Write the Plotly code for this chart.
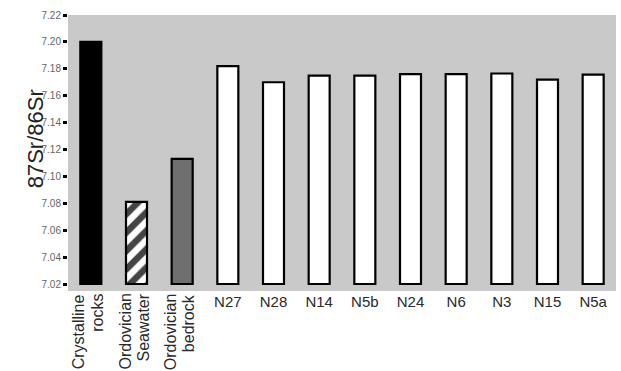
import plotly.graph_objects as go

categories = ["Crystalline<br>rocks", "Ordovician<br>Seawater", "Ordovician<br>bedrock",
              "N27", "N28", "N14", "N5b", "N24", "N6", "N3", "N15", "N5a"]
values = [7.200, 7.081, 7.113, 7.182, 7.170, 7.175, 7.175, 7.176, 7.176, 7.1765, 7.172, 7.1756]
base_value = 7.02
fills = ["#000000", "#ffffff", "#6f6f6f"] + ["#ffffff"] * 9
patterns = ["", "/", ""] + [""] * 9
rotated = [True, True, True] + [False] * 9
y_ticks = [7.02, 7.04, 7.06, 7.08, 7.10, 7.12, 7.14, 7.16, 7.18, 7.20, 7.22]

FONT = "Liberation Sans, Arial, sans-serif"

fig = go.Figure()
fig.add_trace(go.Bar(
    x=categories,
    y=[v - base_value for v in values],
    base=base_value,
    marker=dict(
        color=fills,
        line=dict(color="#000000", width=2.2),
        pattern=dict(shape=patterns, fgcolor="#000000", bgcolor="#ffffff",
                     fgopacity=1, size=13, solidity=0.5),
    ),
    showlegend=False,
))

ticktext = ["" if r else c for c, r in zip(categories, rotated)]

for c, r in zip(categories, rotated):
    if r:
        lines = c.split("<br>")
        n = len(lines)
        for i, line in enumerate(lines):
            fig.add_annotation(
                x=c, xref="x", y=0, yref="paper",
                text=line, textangle=-90, showarrow=False,
                xanchor="center", yanchor="top", yshift=-1,
                xshift=(i - (n - 1) / 2) * 18 - 3,
                font=dict(family=FONT, size=16, color="#2a2a2a"),
            )

fig.add_annotation(
    x=-0.06, xref="paper", y=0.55, yref="paper",
    text="87Sr/86Sr", textangle=-90, showarrow=False,
    xanchor="center", yanchor="middle",
    font=dict(family=FONT, size=22, color="#222222"),
)

fig.update_layout(
    width=621, height=371,
    margin=dict(l=68, r=5, t=15, b=80),
    paper_bgcolor="#ffffff",
    plot_bgcolor="#c9c9c9",
    bargap=0.54,
    xaxis=dict(
        tickmode="array", tickvals=categories, ticktext=ticktext,
        tickangle=0, showgrid=False, zeroline=False, showline=False,
        ticks="", tickfont=dict(family=FONT, size=15, color="#2a2a2a"),
    ),
    yaxis=dict(
        range=[7.0148, 7.22], tickmode="array", tickvals=y_ticks,
        ticktext=[f"{t:.2f}" for t in y_ticks],
        showgrid=False, zeroline=False, showline=False,
        ticks="outside", ticklen=4, tickwidth=3, tickcolor="#000000",
        tickfont=dict(family=FONT, size=10, color="#666666"),
    ),
)

fig.write_html("out.html", config={"displayModeBar": False},
               post_script="document.body.style.margin='0';")
